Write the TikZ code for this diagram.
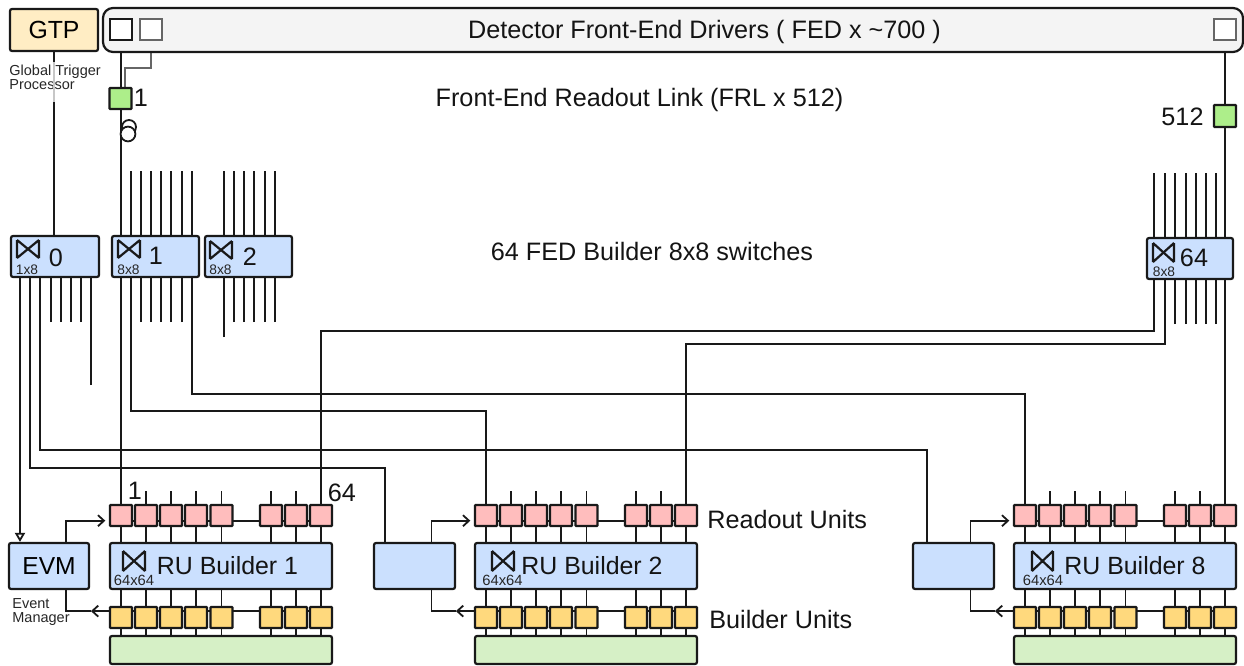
\documentclass[tikz,border=0pt]{standalone}
\usepackage{fontspec}
\setmainfont{Liberation Sans}
\usetikzlibrary{arrows.meta,backgrounds}
\definecolor{gtpc}{HTML}{FFEDC4}
\definecolor{fedc}{HTML}{F4F4F4}
\definecolor{bluec}{HTML}{CBE0FE}
\definecolor{pinkc}{HTML}{FFBDBD}
\definecolor{yelc}{HTML}{FFD97D}
\definecolor{frlc}{HTML}{ADEE8A}
\definecolor{pcc}{HTML}{D6F0C6}
\definecolor{grayl}{HTML}{666666}
\tikzset{
  wire/.style={line width=0.9pt,black!90},
  graywire/.style={line width=0.9pt,grayl},
  fadewire/.style={line width=0.9pt,black!22},
  boxb/.style={draw=black!90,line width=1.1pt,rounded corners=1pt,inner sep=0pt},
  gtpbox/.style={boxb,fill=gtpc},
  fedbox/.style={boxb,fill=fedc,rounded corners=5pt},
  swbox/.style={boxb,fill=bluec},
  rubox/.style={boxb,fill=pinkc,rounded corners=0.3pt},
  bubox/.style={boxb,fill=yelc,rounded corners=0.3pt},
  frlbox/.style={boxb,fill=frlc,rounded corners=0.3pt},
  pcbox/.style={boxb,fill=pcc},
  fedport/.style={draw=black!90,line width=1.1pt,fill=white,inner sep=0pt},
  fedportg/.style={draw=grayl,line width=1.1pt,fill=white,inner sep=0pt},
  big/.style={font=\fontsize{12.6}{14}\selectfont,inner sep=0pt,text=black!92},
  runame/.style={font=\fontsize{12.45}{14}\selectfont,inner sep=0pt,text=black!92},
  small/.style={font=\fontsize{7.25}{7}\selectfont,inner sep=0pt,align=left,text=black!85},
  tiny2/.style={font=\fontsize{6.9}{7}\selectfont,inner sep=0pt,text=black!85},
  tiny3/.style={font=\fontsize{7.4}{7}\selectfont,inner sep=0pt,text=black!85},
  barb/.style={wire,-{Straight Barb[length=3pt,width=5.5pt]}},
}
\newcommand{\pbox}[7]{%
  \pgfmathsetmacro\pw{(#5-#3)*0.5}\pgfmathsetmacro\ph{(#6-#4)*0.5}%
  \node[#1,minimum width=\pw pt,minimum height=\ph pt] (#2) at ({(#3+#5)/2},{(#4+#6)/2}) {#7};}
\newcommand{\swmark}[4]{%
  \draw[line width=1.1pt,black!90] (#1,#2) -- (#1,#4) (#3,#2) -- (#3,#4) (#1,#2) -- (#3,#4) (#1,#4) -- (#3,#2);}
\begin{document}
\begin{tikzpicture}[x=0.5pt,y=-0.5pt]
\useasboundingbox (0,0) rectangle (1244,665);
% top row
\pbox{gtpbox}{gtp}{10}{9}{98}{51}{\fontsize{12.4}{14}\selectfont GTP}
\pbox{fedbox}{fed}{103}{8}{1243}{52}{}
\pbox{fedport}{fa}{110}{19}{132}{40}{}
\pbox{fedportg}{fb}{140}{19}{162}{40}{}
\pbox{fedportg}{fz}{1214}{19}{1236}{40}{}
\node[big] (fedt) at (704.5,32) {Detector Front-End Drivers ( FED x \char`\~700 )};
\pbox{frlbox}{frla}{109.5}{88}{131.5}{109}{}
\pbox{frlbox}{frlz}{1214}{105}{1236}{127}{}
\node[big] (frlt) at (639.5,100) {Front-End Readout Link (FRL x 512)};
\node[big] (frla1) at (141,98) {1};
\node[big] (frlz1) at (1182.5,117) {512};
\node[small,anchor=north west] (gtpl) at (9,65) {Global Trigger\\Processor};
% switches
\pbox{swbox}{sw0}{11}{236}{99}{277}{}
\pbox{swbox}{sw1}{112}{236}{199}{277}{}
\pbox{swbox}{sw2}{205}{236}{292}{277}{}
\pbox{swbox}{sw64}{1147}{238}{1233}{279}{}
\node[big] (swt) at (652,251) {64 FED Builder 8x8 switches};
\swmark{17}{240}{39}{258}
\swmark{118}{240}{140}{258}
\swmark{210}{241}{232}{259}
\swmark{1153}{243}{1174}{262}
\node[tiny2] (l0) at (27,269.5) {1x8};
\node[tiny2] (l1) at (128.5,269.5) {8x8};
\node[tiny2] (l2) at (220.5,269.5) {8x8};
\node[tiny2] (l64) at (1164,271.5) {8x8};
\node[big] (n0) at (56,258) {0};
\node[big] (n1) at (156,256) {1};
\node[big] (n2) at (250,257) {2};
\node[big] (n64) at (1194,258) {64};
% event managers
\pbox{swbox}{evm1}{9}{543}{89}{589}{\fontsize{12.3}{14}\selectfont EVM}
\pbox{swbox}{evm2}{374}{543}{455}{589}{}
\pbox{swbox}{evm8}{913}{543}{994}{589}{}
\node[small,anchor=north west] (evml) at (12,598.5) {Event\\Manager};
% RU builders
\foreach \b/\o in {1/0,2/365,8/904}{
  \foreach \i/\x in {1/110,2/135,3/160,4/185,5/210.5,6/260,7/285,8/310}{
    \pgfmathsetmacro\xa{\x+\o}\pgfmathsetmacro\xb{\x+\o+22}
    \pbox{rubox}{ru\b-\i}{\xa}{505}{\xb}{526}{}
    \pbox{bubox}{bu\b-\i}{\xa}{607}{\xb}{628}{}
  }
  \pgfmathsetmacro\xa{110+\o}\pgfmathsetmacro\xb{332+\o}
  \pbox{swbox}{rb\b}{\xa}{543}{\xb}{589}{}
  \pbox{pcbox}{pc\b}{\xa}{636}{\xb}{664}{}
}
\swmark{123}{551}{145}{571}
\node[tiny3] (m1) at (134,580.5) {64x64};
\node[runame] (t1) at (227.5,566) {RU Builder 1};
\swmark{492}{551}{514}{571}
\node[tiny3] (m2) at (502.5,580.5) {64x64};
\node[runame] (t2) at (592,566) {RU Builder 2};
\swmark{1032}{551}{1053}{571}
\node[tiny3] (m8) at (1043,580.5) {64x64};
\node[runame] (t8) at (1135,566) {RU Builder 8};
\node[big] (r1) at (135,491) {1};
\node[big] (r64) at (342,493) {64};
\node[big,anchor=west] (rul) at (707,519) {Readout Units};
\node[big,anchor=west] (bul) at (709,619) {Builder Units};
% free ends
\coordinate (gtpfa) at (gtp.south |- 0,62);
\coordinate (gtpfb) at (gtp.south |- 0,102);
\begin{scope}[on background layer]
  % top links
  \draw[wire] (fa.south) -- (frla.north -| fa.south);
  \draw[graywire] (fb.south) |- (125,68) -- (125,88);
  \draw[wire] (fz.south) -- (frlz.north);
  \draw[wire] (gtp.south) -- (sw0.north -| gtp.south);
  \draw[wire] (frla.south -| fa.south) -- (sw1.north -| fa.south);
  \draw[wire] (frlz.south) -- (sw64.north -| frlz.south);
  % above switches
  \foreach \x in {130.7,140.7,151,161,171.3,181.7,191.7}{
    \coordinate (t) at (\x,171);
    \draw[wire] (t) -- (t |- sw1.north);
  }
  \foreach \x in {224,234,244,254.3,264.7,274.7}{
    \coordinate (t) at (\x,171);
    \draw[wire] (t) -- (t |- sw2.north);
  }
  \foreach \x in {1154.3,1165,1175.3,1185.7,1196,1206,1216.3}{
    \coordinate (t) at (\x,173);
    \draw[wire] (t) -- (t |- sw64.north);
  }
  % below switches: short stubs
  \foreach \x in {50.7,60.7,70.7,81}{
    \coordinate (t) at (\x,322);
    \draw[wire] (t) -- (t |- sw0.south);
  }
  \foreach \x in {140.7,151,161,171.3,181.7}{
    \coordinate (t) at (\x,322);
    \draw[wire] (t) -- (t |- sw1.south);
  }
  \foreach \x in {234,244,254.3,264.7,274.7}{
    \coordinate (t) at (\x,322);
    \draw[wire] (t) -- (t |- sw2.south);
  }
  \foreach \x in {1175.3,1185.7,1196,1206,1216.3}{
    \coordinate (t) at (\x,324);
    \draw[wire] (t) -- (t |- sw64.south);
  }
  \coordinate (t) at (91,385); \draw[wire] (t) -- (t |- sw0.south);
  \coordinate (t) at (224,337); \draw[wire] (t) -- (t |- sw2.south);
  % long links
  \coordinate (c) at (20,277);
  \draw[wire,-{Triangle[open,fill=white,length=4.5pt,width=5pt]}] (c) -- (c |- evm1.north);
  \coordinate (c) at (30,277); \coordinate (d) at (evm2.north -| 385,0);
  \draw[wire] (c) |- (385,468) -- (d);
  \coordinate (c) at (40.3,277); \coordinate (d) at (evm8.north -| 927,0);
  \draw[wire] (c) |- (927,450) -- (d);
  \draw[wire] (ru1-1.north -| fa.south) -- (sw1.south -| fa.south);
  \coordinate (c) at (130.7,277);
  \draw[wire] (c) |- (ru2-1.north |- 0,411) -- (ru2-1.north);
  \coordinate (c) at (191.7,277);
  \draw[wire] (c) |- (ru8-1.north |- 0,394) -- (ru8-1.north);
  \coordinate (c) at (1154.3,279);
  \draw[wire] (c) |- (ru1-8.north |- 0,331) -- (ru1-8.north);
  \coordinate (c) at (1165,279);
  \draw[wire] (c) |- (ru2-8.north |- 0,344) -- (ru2-8.north);
  \draw[wire] (sw64.south -| frlz.south) -- (ru8-8.north -| frlz.south);
  % builder columns
  \foreach \b in {1,2,8}{
    \foreach \i in {1,...,8}{
      \draw[wire] (ru\b-\i.south) -- (rb\b.north -| ru\b-\i.south);
      \draw[wire] (rb\b.south -| bu\b-\i.north) -- (bu\b-\i.north);
      \draw[wire] (bu\b-\i.south) -- (pc\b.north -| bu\b-\i.south);
    }
    \foreach \i in {2,3,4,5,6,7}{
      \coordinate (t) at (ru\b-\i.north |- 0,491);
      \draw[wire] (t) -- (ru\b-\i.north);
    }
    \draw[wire] ([yshift=-2.6pt]ru\b-1.east) -- ([yshift=-2.6pt]ru\b-8.west);
    \draw[wire] ([yshift=3.2pt]bu\b-1.east) -- ([yshift=3.2pt]bu\b-8.west);
  }
  \draw[wire] (gtpfa) -- (gtpfb);
\end{scope}
\draw[fadewire] (gtpfa) -- (gtpfb);
% loop on the link
\draw[line width=0.9pt,black!90] (129,127) circle (3.5pt);
\draw[line width=0.9pt,black!90,fill=white] (128,134) circle (3.7pt);
% event-manager arrows
\foreach \b/\e in {1/evm1,2/evm2,8/evm8}{
  \coordinate (up\b) at ([yshift=-2.6pt,xshift=-1.8pt]ru\b-1.west);
  \coordinate (dn\b) at ([yshift=3.2pt,xshift=-9pt]bu\b-1.west);
  \draw[barb] ([xshift=8.5pt]\e.north) |- (up\b);
  \draw[barb] ([yshift=3.2pt]bu\b-1.west) -- (dn\b);
  \draw[wire] (dn\b) -| ([xshift=8.5pt]\e.south);
}
\end{tikzpicture}
\end{document}
